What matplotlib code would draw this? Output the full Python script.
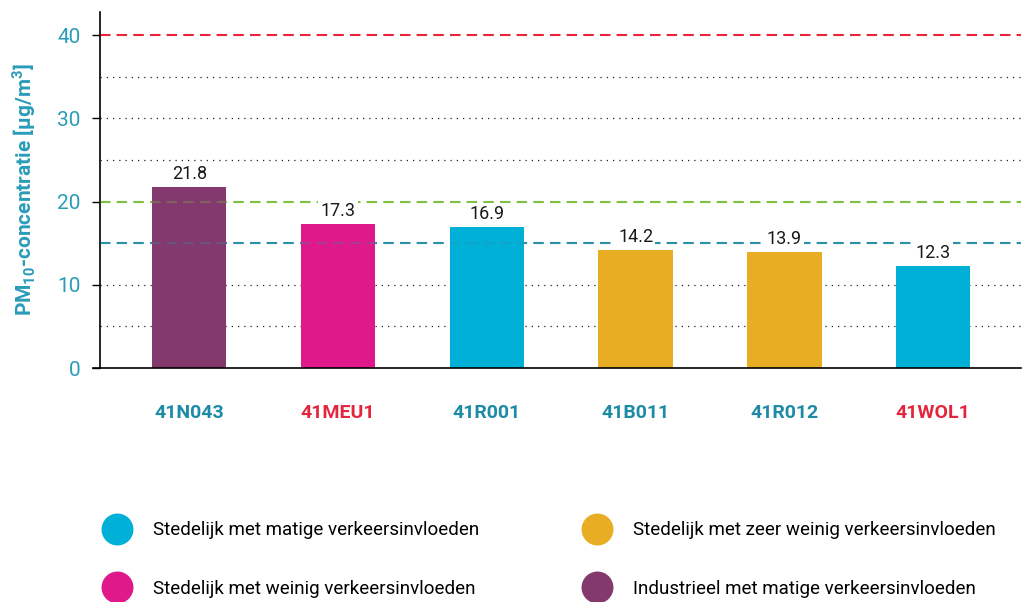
import numpy as np
import matplotlib
matplotlib.use("Agg")
import matplotlib.pyplot as plt
from matplotlib.lines import Line2D

plt.rcParams['font.family'] = ['Roboto', 'DejaVu Sans']
plt.rcParams['mathtext.fontset'] = 'custom'
plt.rcParams['mathtext.rm'] = 'Roboto'
plt.rcParams['mathtext.bf'] = 'Roboto:bold'

# data
stations = ["41N043", "41MEU1", "41R001", "41B011", "41R012", "41WOL1"]
pm10 = [21.8, 17.3, 16.9, 14.2, 13.9, 12.3]
station_type = ["industrieel_matig", "stedelijk_weinig", "stedelijk_matig",
                "stedelijk_zeer_weinig", "stedelijk_zeer_weinig", "stedelijk_matig"]
label_colors = ["#1d8aa6", "#e3263e", "#1d8aa6", "#1d8aa6", "#1d8aa6", "#e3263e"]
ref_values = [40, 20, 15]
ref_colors = ["#e8253a", "#7dc242", "#2e8fa8"]
grid_values = [5, 10, 25, 30, 35]

type_colors = {"stedelijk_matig": "#00b0d6",
               "stedelijk_zeer_weinig": "#e8ad22",
               "stedelijk_weinig": "#e0198a",
               "industrieel_matig": "#84396e"}
type_labels = {"stedelijk_matig": "Stedelijk met matige verkeersinvloeden",
               "stedelijk_weinig": "Stedelijk met weinig verkeersinvloeden",
               "stedelijk_zeer_weinig": "Stedelijk met zeer weinig verkeersinvloeden",
               "industrieel_matig": "Industrieel met matige verkeersinvloeden"}
legend_order = ["stedelijk_matig", "stedelijk_weinig", "stedelijk_zeer_weinig", "industrieel_matig"]

teal = "#2a9cb8"

fig = plt.figure(figsize=(10.29, 6.02), dpi=100)
ax = fig.add_axes([0.0972, 0.3887, 0.895, 0.5913])

x = np.arange(len(stations))
for yv in grid_values:
    ax.axhline(yv, color="#222222", lw=0.9, ls=(0, (1, 4)), zorder=1)
for yv, c in zip(ref_values, ref_colors):
    ax.axhline(yv, color=c, lw=1.5, ls=(0, (5, 3)), zorder=1)
    # faint copy shows through the bars
    ax.axhline(yv, color=c, lw=1.5, ls=(0, (5, 3)), alpha=0.3, zorder=3)

bars = ax.bar(x, pm10, width=0.5, color=[type_colors[t] for t in station_type], zorder=2)
ax.bar_label(bars, labels=[f"{v:.1f}" for v in pm10], padding=3, fontsize=13,
             color="#1a1a1a", zorder=4,
             bbox=dict(facecolor="white", edgecolor="none", pad=1.5))

ax.set_xlim(-0.6, 5.59)
ax.set_ylim(0, 42.8)
ax.set_yticks([0, 10, 20, 30, 40])
ax.tick_params(axis="y", labelsize=15, labelcolor=teal, length=6, width=1, pad=8)
ax.set_xticks(x)
ax.set_xticklabels(stations, fontsize=14, fontweight="bold")
for lbl, c in zip(ax.get_xticklabels(), label_colors):
    lbl.set_color(c)
ax.tick_params(axis="x", length=0, pad=26)
for s in ["top", "right"]:
    ax.spines[s].set_visible(False)
ax.spines["left"].set_linewidth(1.2)
ax.spines["bottom"].set_linewidth(1.2)
ax.spines["bottom"].set_bounds(-0.645, 5.59)

ax.set_ylabel(r"PM$_{\mathbf{10}}$-concentratie [µg/m$^{\mathbf{3}}$]", fontsize=15,
              fontweight="bold", color=teal, labelpad=14)

handles = [Line2D([], [], ls="none", marker="o", markersize=23,
                  markerfacecolor=type_colors[k], markeredgecolor="none") for k in legend_order]
fig.legend(handles, [type_labels[k] for k in legend_order], ncol=2,
           loc="upper left", bbox_to_anchor=(0.1046, 0.134), frameon=False,
           fontsize=13.5, handletextpad=1.42, columnspacing=5.8,
           labelspacing=2.15, borderpad=0, borderaxespad=0, handlelength=1.0)

fig.savefig("out.png", dpi=100)
